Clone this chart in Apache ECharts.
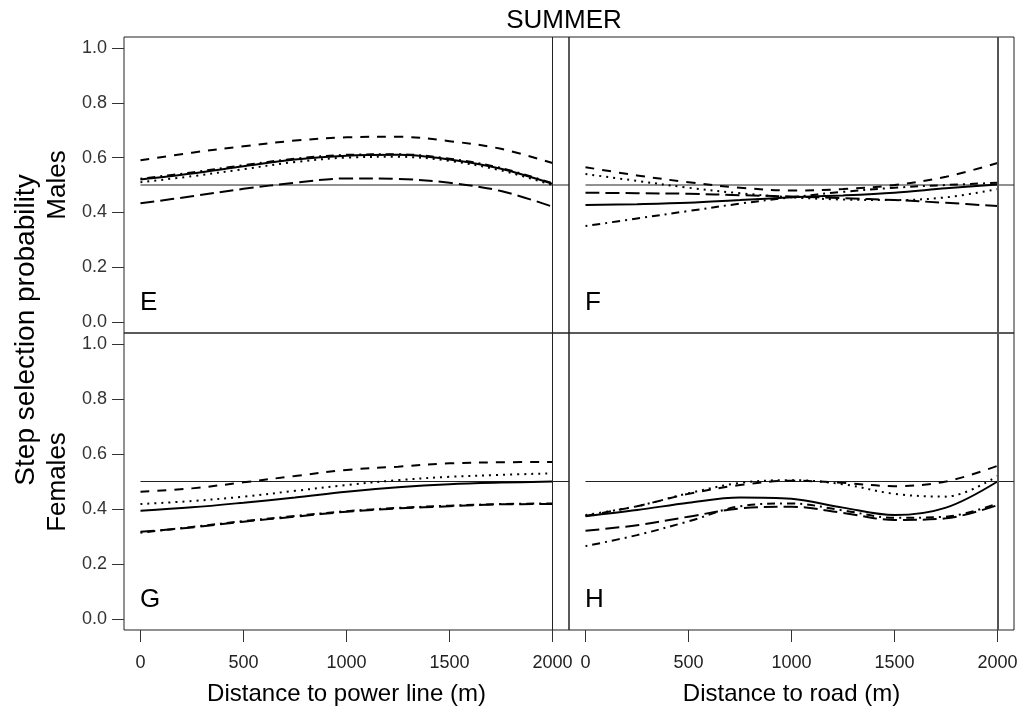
<!DOCTYPE html>
<html><head><meta charset="utf-8">
<script src="https://cdn.jsdelivr.net/npm/echarts@6/dist/echarts.min.js"></script>
<style>html,body{margin:0;padding:0;background:#fff}#c{width:1025px;height:717px}</style>
</head><body><div id="c"></div>
<script>
// ---- data ----
const xs = [0, 250, 500, 750, 1000, 1250, 1500, 1750, 2000];
const xTicks = [0, 500, 1000, 1500, 2000];
const yTicks = [0, 0.2, 0.4, 0.6, 0.8, 1.0];
const refY = 0.5;
const refX = 2000;
const xMin = -80, xMax = 2080, yMin = -0.04, yMax = 1.04;

const E_solid     = [0.520, 0.542, 0.568, 0.593, 0.607, 0.610, 0.593, 0.559, 0.504];
const E_dotted    = [0.510, 0.532, 0.558, 0.584, 0.600, 0.603, 0.588, 0.553, 0.500];
const E_dotdash   = [0.523, 0.546, 0.572, 0.596, 0.610, 0.612, 0.596, 0.562, 0.506];
const E_shortdash = [0.590, 0.618, 0.641, 0.662, 0.674, 0.676, 0.660, 0.632, 0.580];
const E_longdash  = [0.433, 0.459, 0.486, 0.508, 0.524, 0.522, 0.508, 0.478, 0.421];

const F_solid     = [0.427, 0.430, 0.435, 0.445, 0.455, 0.462, 0.472, 0.488, 0.502];
const F_dotted    = [0.540, 0.515, 0.490, 0.470, 0.455, 0.447, 0.445, 0.455, 0.485];
const F_dotdash   = [0.350, 0.378, 0.405, 0.432, 0.455, 0.475, 0.490, 0.500, 0.508];
const F_shortdash = [0.565, 0.535, 0.510, 0.490, 0.480, 0.485, 0.500, 0.530, 0.580];
const F_longdash  = [0.472, 0.470, 0.468, 0.463, 0.458, 0.452, 0.445, 0.435, 0.423];

const G_solid     = [0.394, 0.406, 0.423, 0.442, 0.463, 0.479, 0.490, 0.496, 0.500];
const G_dotted    = [0.418, 0.429, 0.445, 0.466, 0.487, 0.505, 0.517, 0.524, 0.530];
const G_dotdash   = [0.314, 0.335, 0.356, 0.375, 0.392, 0.404, 0.412, 0.418, 0.420];
const G_shortdash = [0.463, 0.475, 0.497, 0.520, 0.542, 0.554, 0.566, 0.570, 0.571];
const G_longdash  = [0.317, 0.333, 0.354, 0.372, 0.390, 0.402, 0.410, 0.417, 0.418];

const H_solid     = [0.374, 0.396, 0.423, 0.442, 0.437, 0.405, 0.378, 0.405, 0.500];
const H_dotted    = [0.378, 0.410, 0.457, 0.495, 0.505, 0.490, 0.455, 0.445, 0.520];
const H_dotdash   = [0.265, 0.305, 0.355, 0.410, 0.420, 0.395, 0.368, 0.372, 0.420];
const H_shortdash = [0.375, 0.410, 0.455, 0.487, 0.503, 0.495, 0.483, 0.500, 0.557];
const H_longdash  = [0.321, 0.341, 0.372, 0.402, 0.408, 0.386, 0.360, 0.366, 0.414];

const panelLetters = ['E', 'F', 'G', 'H'];
const xTitles = ['Distance to power line (m)', 'Distance to road (m)'];
const rowTitles = ['Males', 'Females'];
const yTitle = 'Step selection probability';
const mainTitle = 'SUMMER';

// ---- build ----
const FONT = 'Liberation Sans, Arial, sans-serif';
const panels = [
  {s: E_solid, d: E_dotted, dd: E_dotdash, sd: E_shortdash, ld: E_longdash},
  {s: F_solid, d: F_dotted, dd: F_dotdash, sd: F_shortdash, ld: F_longdash},
  {s: G_solid, d: G_dotted, dd: G_dotdash, sd: G_shortdash, ld: G_longdash},
  {s: H_solid, d: H_dotted, dd: H_dotdash, sd: H_shortdash, ld: H_longdash}
];
const gridPos = [
  {left: 124, top: 37, width: 445, height: 296},
  {left: 569, top: 37, width: 445, height: 296},
  {left: 124, top: 333, width: 445, height: 297},
  {left: 569, top: 333, width: 445, height: 297}
];
const grid = gridPos.map(g => Object.assign({show: true, borderColor: '#222', borderWidth: 1, backgroundColor: 'transparent', containLabel: false}, g));

const xAxis = [], yAxis = [], series = [];
const pairs = ys => xs.map((x, i) => [x, ys[i]]);
const styles = {
  s: 'solid',
  d: [2, 5],
  dd: [2, 5, 8, 5],
  sd: [9, 8],
  ld: [14, 6]
};
for (let p = 0; p < 4; p++) {
  const bottom = p >= 2, left = p % 2 === 0;
  xAxis.push({
    type: 'value', gridIndex: p, min: xMin, max: xMax, position: 'bottom',
    axisLine: {show: false, onZero: false}, splitLine: {show: false},
    axisTick: {show: bottom, inside: false, customValues: xTicks, length: 12, lineStyle: {color: '#333', width: 1}},
    axisLabel: {show: bottom, customValues: xTicks, margin: 24, color: '#222', fontSize: 18, fontFamily: FONT,
      formatter: v => String(Math.round(v))},
    name: bottom ? xTitles[p - 2] : '', nameLocation: 'middle', nameGap: 52,
    nameTextStyle: {fontSize: 24, color: '#000', fontFamily: FONT}
  });
  yAxis.push({
    type: 'value', gridIndex: p, min: yMin, max: yMax, position: 'left',
    axisLine: {show: false, onZero: false}, splitLine: {show: false},
    axisTick: {show: left, inside: false, customValues: yTicks, length: 12, lineStyle: {color: '#333', width: 1}},
    axisLabel: {show: left, customValues: yTicks, margin: 17, color: '#333', fontSize: 18, fontFamily: FONT,
      formatter: v => Number(v).toFixed(1)}
  });
  // reference lines
  series.push({
    type: 'line', xAxisIndex: p, yAxisIndex: p, data: [[xs[0], refY], [xMax, refY]],
    symbol: 'none', silent: true, lineStyle: {color: '#222', width: 1},
    markLine: {symbol: 'none', silent: true, label: {show: false},
      lineStyle: {color: left ? '#222' : '#555', width: left ? 1 : 2, type: 'solid'},
      data: [{xAxis: refX}]}
  });
  const P = panels[p];
  ['ld', 'sd', 'dd', 'd', 's'].forEach(k => {
    series.push({
      type: 'line', xAxisIndex: p, yAxisIndex: p, data: pairs(P[k]),
      symbol: 'none', smooth: 0.35, silent: true,
      lineStyle: {color: '#000', width: 2, type: styles[k], cap: 'butt'}
    });
  });
}

const textEl = (txt, x, y, size, rot, align) => ({
  type: 'text', x: x, y: y, rotation: rot || 0,
  style: {text: txt, x: 0, y: 0, align: align || 'center', verticalAlign: 'middle', fontSize: size, fontFamily: FONT, fill: '#000'}
});
const gr = [
  textEl(mainTitle, 564, 21, 26, 0),
  textEl(rowTitles[0], 58, 185, 26, Math.PI / 2),
  textEl(rowTitles[1], 58, 482, 26, Math.PI / 2),
  textEl(yTitle, 26, 330, 28, Math.PI / 2),
  textEl(panelLetters[0], 140, 303, 26, 0, 'left'),
  textEl(panelLetters[1], 585, 303, 26, 0, 'left'),
  textEl(panelLetters[2], 140, 600, 26, 0, 'left'),
  textEl(panelLetters[3], 585, 600, 26, 0, 'left')
];

const chart = echarts.init(document.getElementById('c'), null, {renderer: 'canvas'});
chart.setOption({
  backgroundColor: '#fff',
  animation: false,
  grid: grid, xAxis: xAxis, yAxis: yAxis, series: series,
  graphic: gr
});
</script></body></html>
